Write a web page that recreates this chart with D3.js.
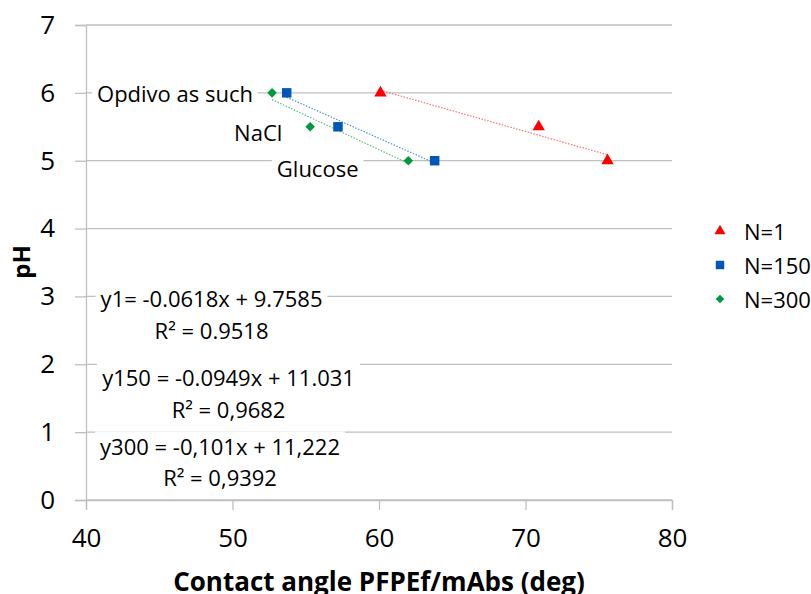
<!DOCTYPE html>
<html>
<head>
<meta charset="utf-8">
<script src="https://cdn.jsdelivr.net/npm/d3@7"></script>
<style>
  body { margin: 0; background: #fff; }
  text { font-family: "Open Sans", "Noto Sans", sans-serif; fill: #000; }
</style>
</head>
<body>
<script>
// data
var phValues = [6, 5.5, 5];
var angleN1 = [60.1, 70.9, 75.6];
var angleN150 = [53.7, 57.2, 63.8];
var angleN300 = [52.7, 55.3, 62.0];
var seriesNames = ["N=1", "N=150", "N=300"];
var sampleLabels = ["Opdivo as such", "NaCl", "Glucose"];
var eqLabels = ["y1= -0.0618x + 9.7585", "y150 = -0.0949x + 11.031", "y300 = -0,101x + 11,222"];
var r2Labels = ["R\u00b2 = 0.9518", "R\u00b2 = 0,9682", "R\u00b2 = 0,9392"];
var xTicks = [40, 50, 60, 70, 80];
var yTicks = [0, 1, 2, 3, 4, 5, 6, 7];

var W = 811, H = 594;
var plotL = 86, plotR = 672, plotT = 25, plotB = 500;

var x = d3.scaleLinear().domain([40, 80]).range([plotL, plotR]);
var y = d3.scaleLinear().domain([0, 7]).range([plotB, plotT]);

var svg = d3.select(document.body).append("svg")
  .attr("width", W).attr("height", H);

var grid = "#bfbfbf";

// horizontal gridlines
svg.append("g").selectAll("line").data(yTicks).enter().append("line")
  .attr("x1", plotL).attr("x2", plotR)
  .attr("y1", function (d) { return y(d); }).attr("y2", function (d) { return y(d); })
  .attr("stroke", grid).attr("stroke-width", 1.3);

// axes
var yAxis = svg.append("g").attr("transform", "translate(" + plotL + ",0)")
  .call(d3.axisLeft(y).tickValues(yTicks).tickSize(11).tickPadding(20).tickFormat(d3.format("d")));
var xAxis = svg.append("g").attr("transform", "translate(0," + plotB + ")")
  .call(d3.axisBottom(x).tickValues(xTicks).tickSize(10).tickPadding(19).tickFormat(d3.format("d")));
[yAxis, xAxis].forEach(function (a) {
  a.select(".domain").attr("stroke", grid).attr("stroke-width", 1.3);
  a.selectAll(".tick line").attr("stroke", grid).attr("stroke-width", 1.3);
  a.selectAll(".tick text").style("font-family", "'Open Sans', sans-serif")
    .style("font-size", "26px").attr("fill", "#000");
});

// axis titles
svg.append("text").attr("x", x(60)).attr("y", 591)
  .attr("text-anchor", "middle").style("font-size", "26px").style("font-weight", "bold")
  .text("Contact angle PFPEf/mAbs (deg)");
svg.append("text").attr("transform", "translate(30,262) rotate(-90)")
  .attr("text-anchor", "middle").style("font-size", "24px").style("font-weight", "bold")
  .text("pH");

// text box helper: white background behind text
function label(txt, px, py, anchor, size) {
  var g = svg.append("g");
  var bg = g.append("rect").attr("fill", "#fff");
  var t = g.append("text").attr("x", px).attr("y", py)
    .attr("text-anchor", anchor).attr("dominant-baseline", "central")
    .style("font-size", size + "px").text(txt);
  var b = t.node().getBBox();
  bg.attr("x", b.x - 5).attr("y", b.y).attr("width", b.width + 10).attr("height", b.height);
  return g;
}

// sample annotations
label(sampleLabels[0], x(51.4), y(6), "end", 22);
label(sampleLabels[1], x(53.4), y(5.43), "end", 22);
label(sampleLabels[2], x(58.6), y(4.9), "end", 22);

// equations
var eqY = [2.97, 1.82, 0.79];
var r2Y = [2.5, 1.34, 0.34];
var eqCx = [x(48.57), x(49.73), x(49.15)];
for (var i = 0; i < 3; i++) {
  label(eqLabels[i], eqCx[i], y(eqY[i]), "middle", 22);
  label(r2Labels[i], eqCx[i], y(r2Y[i]), "middle", 22);
}

// series (diamond = square turned 45deg)
var series = [
  { name: seriesNames[0], xs: angleN1, color: "#ff0000", trend: "#ff6f6f", sym: d3.symbolTriangle, size: 66, rot: 0 },
  { name: seriesNames[1], xs: angleN150, color: "#0057b8", trend: "#4f93d9", sym: d3.symbolSquare, size: 90, rot: 0 },
  { name: seriesNames[2], xs: angleN300, color: "#009a3e", trend: "#52c47a", sym: d3.symbolSquare, size: 46, rot: 45 }
];

function fit(xs, ys) {
  var mx = d3.mean(xs), my = d3.mean(ys), sxy = 0, sxx = 0;
  xs.forEach(function (v, i) { sxy += (v - mx) * (ys[i] - my); sxx += (v - mx) * (v - mx); });
  var m = sxy / sxx;
  return { m: m, b: my - m * mx };
}

series.forEach(function (s) {
  var f = fit(s.xs, phValues);
  var x0 = d3.min(s.xs), x1 = d3.max(s.xs);
  svg.append("line")
    .attr("x1", x(x0)).attr("y1", y(f.m * x0 + f.b))
    .attr("x2", x(x1)).attr("y2", y(f.m * x1 + f.b))
    .attr("stroke", s.trend).attr("stroke-width", 1.2)
    .attr("stroke-dasharray", "1.5,1.5");
});

series.forEach(function (s) {
  svg.append("g").selectAll("path").data(s.xs).enter().append("path")
    .attr("d", d3.symbol().type(s.sym).size(s.size))
    .attr("transform", function (d, i) {
      return "translate(" + x(d) + "," + y(phValues[i]) + ") rotate(" + s.rot + ")";
    })
    .attr("fill", s.color);
});

// legend
var lg = svg.append("g").attr("transform", "translate(720,231)");
series.forEach(function (s, i) {
  var row = lg.append("g").attr("transform", "translate(0," + (i * 34) + ")");
  row.append("path").attr("d", d3.symbol().type(s.sym).size(s.size * 0.8))
    .attr("transform", "rotate(" + s.rot + ")").attr("fill", s.color);
  row.append("text").attr("x", 24).attr("dominant-baseline", "central")
    .style("font-size", "22px").text(s.name);
});
</script>
</body>
</html>
